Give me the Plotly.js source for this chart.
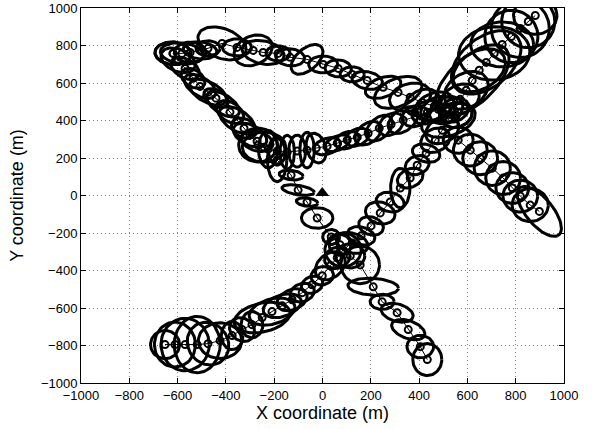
<!DOCTYPE html>
<html>
<head>
<meta charset="utf-8">
<script src="https://cdn.plot.ly/plotly-3.0.1.min.js"></script>
<style>html,body{margin:0;padding:0;background:#fff;}#plot{width:592px;height:429px;}</style>
</head>
<body>
<div id="plot"></div>
<script>
// Segment A: south-west to north-east track (estimates, m)
const segA_x = [-652,-611,-569,-519,-474,-424,-374,-333,-292,-250,-209,-167,-126,-84,-43,-1,32,61,
  85,123,160,201,239,280,322,363,392,429,467,496,521,545,570,595,620,649,678,711,744,782,819,852,881];
const segA_y = [-795,-795,-795,-795,-790,-774,-747,-715,-689,-651,-619,-588,-556,-518,-476,-428,-375,-332,
  -290,-253,-215,-162,-93,-35,40,93,162,226,295,348,402,455,513,561,614,668,710,758,806,848,891,928,960];
const segA_a = [60,85,100,95,85,90,45,50,45,120,100,85,70,55,50,50,80,60,
  75,50,45,45,55,50,40,60,55,45,70,80,120,70,90,110,220,130,190,150,130,110,120,110,90];
const segA_b = [75,120,140,150,115,95,75,65,70,75,65,55,50,45,40,45,55,50,
  90,70,60,55,65,60,105,45,45,60,55,60,80,55,70,80,105,90,115,140,120,140,155,140,100];
const segA_t = [0,0,0,0,10,0,0,20,0,20,25,30,40,45,50,60,60,60,
  0,60,60,50,50,60,0,45,50,60,55,50,30,50,50,55,55,50,55,30,0,0,0,0,0];

// Segment B: descending track from the loop to the south-east
const segB_x = [-188,-130,-101,-64,-22,36,73,115,156,210,247,309,355,405,434];
const segB_y = [189,109,29,-35,-120,-221,-263,-322,-370,-487,-567,-625,-715,-806,-875];
const segB_a = [40,50,68,45,65,35,45,60,80,105,50,70,75,55,60];
const segB_b = [115,25,25,22,55,40,55,65,100,45,40,45,45,60,85];
const segB_t = [0,-10,-12,-10,0,0,0,0,0,-5,0,-25,-30,0,0];

// Segment C: east track going down to the right
const segC_x = [554,562,612,653,703,748,786,819,860,898];
const segC_y = [428,295,242,199,146,93,40,-3,-51,-85];
const segC_a = [70,62,70,72,75,72,68,72,75,150];
const segC_b = [60,70,85,88,92,88,82,85,88,60];
const segC_t = [45,0,0,0,0,0,0,0,0,-60];

// Segment D: upper edge of the loop
const segD_x = [-619,-582,-548,-507,-474,-416,-354,-287,-246,-184,-134,-64,3,65,123,185,251,313,363,413,463,512,554];
const segD_y = [758,758,763,774,785,811,790,774,763,758,737,726,699,678,646,614,577,550,524,497,476,455,428];
const segD_a = [75,90,65,70,50,110,60,70,90,50,60,90,60,55,50,65,80,110,90,80,90,80,70];
const segD_b = [60,55,55,45,40,75,45,90,60,40,45,50,45,45,40,45,50,70,70,60,65,60,60];
const segD_t = [-10,-10,0,-10,0,-35,0,-40,-20,0,-10,55,0,-10,0,-20,30,35,30,45,40,50,45];

// Segment E: left edge of the loop
const segE_x = [-619,-598,-569,-536,-507,-474,-441,-412,-383,-354,-325,-300,-271,-242];
const segE_y = [758,721,678,625,582,551,519,487,445,402,359,322,290,258];
const segE_a = [75,80,70,60,80,90,60,85,70,90,60,80,70,90];
const segE_b = [60,55,45,40,45,50,40,45,45,50,45,50,50,80];
const segE_t = [-10,-40,-45,-50,-45,-40,-45,-45,-50,-45,-50,-40,-30,0];

// Segment F: lower edge of the loop
const segF_x = [-267,-225,-188,-146,-105,-64,-26,19,61,102,144,189,235,284,334,384,434,479];
const segF_y = [269,247,237,231,237,242,253,263,279,295,311,332,359,380,402,423,444,460];
const segF_a = [80,40,35,30,35,30,40,60,60,55,55,70,75,65,80,60,70,80];
const segF_b = [90,100,75,90,85,95,80,40,35,40,40,45,45,45,50,50,55,60];
const segF_t = [0,0,0,0,0,0,10,30,35,40,45,55,60,60,55,50,45,40];

// Reference marker
const refX = [-1];
const refY = [13];

const xTicks = [-1000,-800,-600,-400,-200,0,200,400,600,800,1000];
const yTicks = [-1000,-800,-600,-400,-200,0,200,400,600,800,1000];

const segments = [
  [segA_x, segA_y, segA_a, segA_b, segA_t],
  [segB_x, segB_y, segB_a, segB_b, segB_t],
  [segC_x, segC_y, segC_a, segC_b, segC_t],
  [segD_x, segD_y, segD_a, segD_b, segD_t],
  [segE_x, segE_y, segE_a, segE_b, segE_t],
  [segF_x, segF_y, segF_a, segF_b, segF_t]
];

function ellipseTrace(xs, ys, as, bs, ts) {
  const ex = [], ey = [];
  const N = 64;
  for (let i = 0; i < xs.length; i++) {
    const th = ts[i] * Math.PI / 180;
    const c = Math.cos(th), s = Math.sin(th);
    for (let k = 0; k <= N; k++) {
      const u = 2 * Math.PI * k / N;
      const px = as[i] * Math.cos(u), py = bs[i] * Math.sin(u);
      ex.push(xs[i] + px * c - py * s);
      ey.push(ys[i] + px * s + py * c);
    }
    ex.push(null); ey.push(null);
  }
  return {x: ex, y: ey, type: 'scatter', mode: 'lines', hoverinfo: 'skip',
    line: {color: '#000', width: 3}, showlegend: false};
}

const traces = [];
segments.forEach(sg => traces.push(ellipseTrace(sg[0], sg[1], sg[2], sg[3], sg[4])));
segments.forEach(sg => traces.push({
  x: sg[0], y: sg[1], type: 'scatter', mode: 'lines+markers', showlegend: false,
  line: {color: '#000', width: 1},
  marker: {symbol: 'circle-open', size: 7, color: '#000', line: {width: 2, color: '#000'}}
}));
traces.push({x: refX, y: refY, type: 'scatter', mode: 'markers', showlegend: false,
  marker: {symbol: 'triangle-up', size: 12, color: '#000'}});

const axisCommon = {
  range: [-1000, 1000], tickmode: 'array', showgrid: true, griddash: '1px,3px',
  gridcolor: '#808080', gridwidth: 1, zeroline: false, showline: true,
  linecolor: '#000', linewidth: 1, mirror: 'allticks', ticks: 'inside',
  ticklen: 5, tickcolor: '#000', tickfont: {family: 'Liberation Sans, Arial, sans-serif', size: 13, color: '#000'},
  fixedrange: true
};

const layout = {
  width: 592, height: 429,
  margin: {l: 81, r: 28, t: 8, b: 46},
  paper_bgcolor: '#fff', plot_bgcolor: '#fff',
  showlegend: false,
  xaxis: Object.assign({}, axisCommon, {tickvals: xTicks,
    title: {text: 'X coordinate (m)', standoff: 2, font: {family: 'Liberation Sans, Arial, sans-serif', size: 18, color: '#000'}}}),
  yaxis: Object.assign({}, axisCommon, {tickvals: yTicks,
    title: {text: 'Y coordinate (m)', standoff: 12, font: {family: 'Liberation Sans, Arial, sans-serif', size: 18, color: '#000'}}})
};

Plotly.newPlot('plot', traces, layout, {displayModeBar: false, staticPlot: true});
</script>
</body>
</html>
